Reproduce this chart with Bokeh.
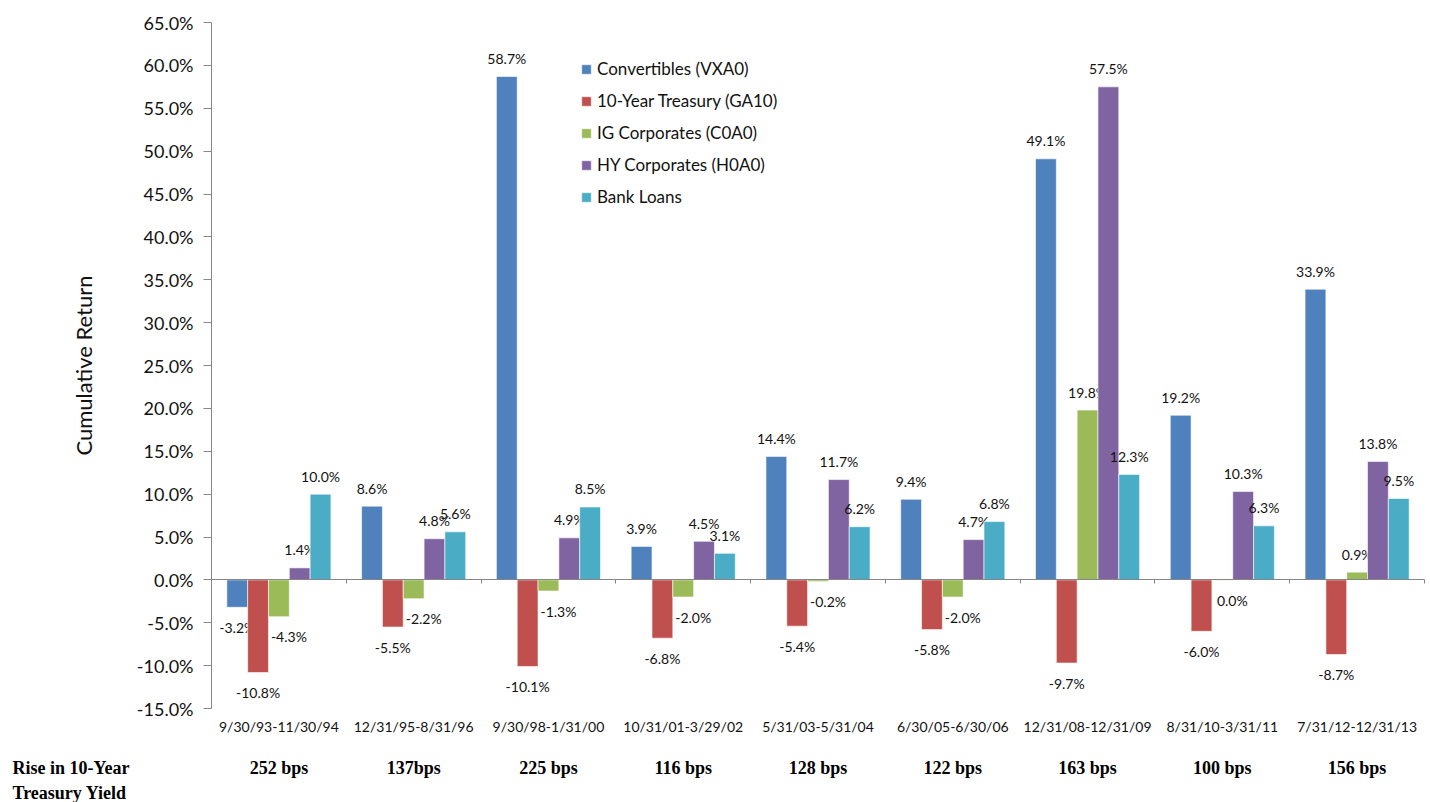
from bokeh.plotting import figure
from bokeh.models import (ColumnDataSource, Range1d, FixedTicker, LinearAxis,
                          Legend, LegendItem, Label, PrintfTickFormatter)
from bokeh.core.properties import value
from bokeh.embed import file_html
from bokeh.resources import INLINE

periods = ["9/30/93-11/30/94", "12/31/95-8/31/96", "9/30/98-1/31/00", "10/31/01-3/29/02",
           "5/31/03-5/31/04", "6/30/05-6/30/06", "12/31/08-12/31/09", "8/31/10-3/31/11",
           "7/31/12-12/31/13"]
rise_bps = ["252 bps", "137bps", "225 bps", "116 bps", "128 bps", "122 bps", "163 bps",
            "100 bps", "156 bps"]
series_names = ["Convertibles (VXA0)", "10-Year Treasury (GA10)", "IG Corporates (C0A0)",
                "HY Corporates (H0A0)", "Bank Loans"]
convertibles = [-3.2, 8.6, 58.7, 3.9, 14.4, 9.4, 49.1, 19.2, 33.9]
treasury_10y = [-10.8, -5.5, -10.1, -6.8, -5.4, -5.8, -9.7, -6.0, -8.7]
ig_corporates = [-4.3, -2.2, -1.3, -2.0, -0.2, -2.0, 19.8, -0.04, 0.9]
hy_corporates = [1.4, 4.8, 4.9, 4.5, 11.7, 4.7, 57.5, 10.3, 13.8]
bank_loans = [10.0, 5.6, 8.5, 3.1, 6.2, 6.8, 12.3, 6.3, 9.5]
y_ticks = [-15, -10, -5, 0, 5, 10, 15, 20, 25, 30, 35, 40, 45, 50, 55, 60, 65]

all_series = [convertibles, treasury_10y, ig_corporates, hy_corporates, bank_loans]
colors = ["#4F81BD", "#C0504D", "#9BBB59", "#8064A2", "#4BACC6"]

FONT = "Lato"
SERIF = "Liberation Serif"
n = len(periods)
bw = 0.1545
y_lo, y_hi = -15, 65

# layout in pixels: plot area from x=211..1424, y=22..708 within a 1430x802 canvas
W, H = 1430, 802
left_px, right_px, top_px, bottom_px = 211, 1424, 22, 708
xs_per_px = n / (right_px - left_px)
ys_per_px = (y_hi - y_lo) / (bottom_px - top_px)
x_range = Range1d(-left_px * xs_per_px, n + (W - right_px) * xs_per_px)
y_range = Range1d(y_lo - (H - bottom_px) * ys_per_px, y_hi + top_px * ys_per_px)

p = figure(width=W, height=H, output_backend="svg", toolbar_location=None,
           x_range=x_range, y_range=y_range,
           min_border_left=0, min_border_right=0, min_border_top=0, min_border_bottom=0)
p.outline_line_color = None
p.grid.visible = False
p.background_fill_color = "white"
p.border_fill_color = "white"

# y axis at x = 0
ya = p.yaxis[0]
ya.fixed_location = 0
ya.bounds = (y_lo, y_hi)
ya.ticker = FixedTicker(ticks=y_ticks)
ya.formatter = PrintfTickFormatter(format="%.1f%%")
ya.major_tick_in = 0
ya.major_tick_out = 8
ya.minor_tick_line_color = None
ya.axis_line_color = "#868686"
ya.major_tick_line_color = "#868686"
ya.major_label_text_font = FONT
ya.major_label_text_font_size = "18px"
ya.major_label_text_color = "#111111"
ya.major_label_standoff = 10
ya.axis_label = "Cumulative Return"
ya.axis_label_text_font = FONT
ya.axis_label_text_font_size = "22px"
ya.axis_label_text_font_style = "normal"
ya.axis_label_text_color = "#111111"
ya.axis_label_standoff = 37

# x axis (period labels) at bottom of the plot area
centers = [i + 0.5 for i in range(n)]
xa = p.xaxis[0]
xa.fixed_location = y_lo
xa.ticker = FixedTicker(ticks=centers)
xa.major_label_overrides = {c: lab for c, lab in zip(centers, periods)}
xa.axis_line_color = None
xa.major_tick_line_color = None
xa.minor_tick_line_color = None
xa.major_label_text_font = FONT
xa.major_label_text_font_size = "14px"
xa.major_label_text_color = "#111111"
xa.major_label_standoff = 3

# second x axis (rise in bps)
xb = LinearAxis(fixed_location=y_lo, ticker=FixedTicker(ticks=centers),
                major_label_overrides={c: lab for c, lab in zip(centers, rise_bps)})
xb.axis_line_color = None
xb.major_tick_line_color = None
xb.minor_tick_line_color = None
xb.major_label_text_font = SERIF
xb.major_label_text_font_style = "bold"
xb.major_label_text_font_size = "18px"
xb.major_label_text_color = "#000000"
xb.major_label_standoff = 43
p.add_layout(xb, "below")

# zero line with boundary ticks
bounds = [i + 1 for i in range(n)]
xz = LinearAxis(fixed_location=0, bounds=(0, n), ticker=FixedTicker(ticks=bounds),
                major_label_overrides={b: "" for b in bounds})
xz.axis_line_color = "#868686"
xz.major_tick_line_color = "#868686"
xz.major_tick_in = 0
xz.major_tick_out = 4
xz.minor_tick_line_color = None
p.add_layout(xz, "below")

# bars
items = []
for j, (name, vals, col) in enumerate(zip(series_names, all_series, colors)):
    xs = [i + 0.5 + (j - 2) * bw for i in range(n)]
    src = ColumnDataSource(dict(x=xs, top=vals))
    r = p.vbar(x="x", top="top", bottom=0, width=bw, source=src, fill_color=col,
               line_color="white", line_alpha=0.6, line_width=1)
    items.append(LegendItem(label=name, renderers=[r]))
    labels = []
    for v in vals:
        labels.append(f"{abs(v):.1f}%" if round(v, 1) == 0 else f"{v:.1f}%")
    yoff = [-18 if v > 0 else 20 for v in vals]
    xoff = [10 if (j == 2 and v <= 0) else 0 for v in vals]
    lsrc = ColumnDataSource(dict(x=xs, y=vals, t=labels, yo=yoff, xo=xoff))
    p.text(x="x", y="y", text="t", source=lsrc, y_offset="yo", x_offset="xo",
           text_align="center", text_baseline="middle", text_font=value(FONT),
           text_font_size="14px", text_color="#111111")

legend = Legend(items=items, location=(580, 595), orientation="vertical",
                glyph_width=12, glyph_height=12, label_height=20, spacing=11,
                label_text_font=FONT, label_text_font_size="17px", label_text_color="#111111",
                label_standoff=5, padding=0, margin=0,
                border_line_alpha=0, background_fill_alpha=0)
p.add_layout(legend)

# row title (screen units from the bottom-left corner)
p.add_layout(Label(x=12, y=H - 767, x_units="screen", y_units="screen",
                   text="Rise in 10-Year", text_font=SERIF, text_font_style="bold",
                   text_font_size="18px", text_color="#000000", text_baseline="middle"))
p.add_layout(Label(x=12, y=H - 792, x_units="screen", y_units="screen",
                   text="Treasury Yield", text_font=SERIF, text_font_style="bold",
                   text_font_size="18px", text_color="#000000", text_baseline="middle"))

open("out.html", "w").write(file_html(p, INLINE))
